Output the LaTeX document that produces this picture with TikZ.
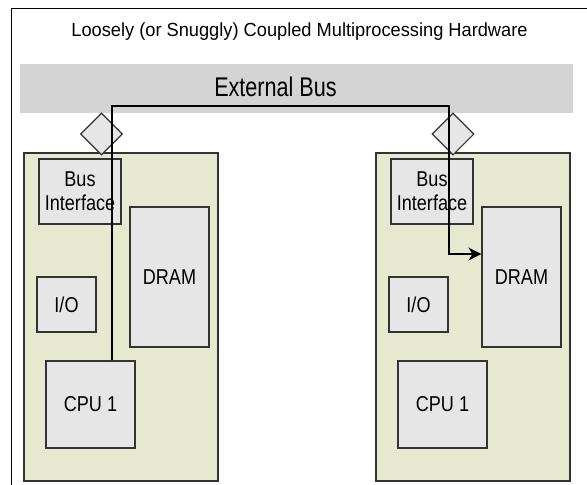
\documentclass[tikz,border=0pt]{standalone}
\usepackage{fontspec}
\setmainfont{Liberation Sans}
\newfontfamily\titlefont[FakeStretch=0.96]{Liberation Sans}
\newfontfamily\boxfont[FakeStretch=0.84]{Liberation Sans}
\newfontfamily\busfont[FakeStretch=0.8]{Liberation Sans}
\usetikzlibrary{shapes.geometric,arrows.meta}

\definecolor{boardfill}{HTML}{E6E9CF}
\definecolor{boxfill}{HTML}{E6E6E6}
\definecolor{barfill}{HTML}{D4D4D4}
\definecolor{edgegray}{HTML}{333333}

\tikzset{
	board/.style={rectangle,draw=edgegray,line width=1.5pt,fill=boardfill,inner sep=0},
	unit/.style={rectangle,draw=edgegray,line width=1.1pt,fill=boxfill,inner sep=0,align=center,
		font=\boxfont\fontsize{21.5}{24}\selectfont},
	port/.style={diamond,aspect=1,draw=edgegray,line width=1.1pt,fill=boxfill,inner sep=0,minimum size=42pt},
	wire/.style={draw=black,line width=1.2pt}
}

\begin{document}
\begin{tikzpicture}[x=1pt,y=-1pt]
		\useasboundingbox (0, 0) rectangle (587, 485);
		\draw[line width=1.6pt] (11.5, 490) -- (11.5, 8.5) -- (592, 8.5);

		\node[anchor=base,font=\titlefont\fontsize{19}{22}\selectfont] (title) at (299.5, 36.7) { Loosely (or Snuggly) Coupled Multiprocessing Hardware };
		\node[rectangle,fill=barfill,minimum width=553.5pt,minimum height=49pt,inner sep=0] (extbus) at (296.25, 88.5) {};
		\node[anchor=base,inner sep=0,font=\busfont\fontsize{27}{30}\selectfont] (buslabel) at (275.5, 96.7) {External Bus};

		% left processor
		\node[board,minimum width=194pt,minimum height=328pt] (boardA) at (121, 317) {};
		\node[unit,minimum width=82pt,minimum height=65pt] (bifA) at (80, 191.5) {Bus\\Interface};
		\node[unit,minimum width=79pt,minimum height=140pt] (dramA) at (169.5, 277) {DRAM};
		\node[unit,minimum width=59pt,minimum height=55pt] (ioA) at (66.5, 304.5) {I/O};
		\node[unit,minimum width=89pt,minimum height=87pt] (cpuA) at (90.5, 404.5) {CPU 1};
		\node[port] (portA) at (101.5, 134) {};

		% right processor
		\node[board,minimum width=194pt,minimum height=328pt] (boardB) at (473, 317) {};
		\node[unit,minimum width=82pt,minimum height=65pt] (bifB) at (432, 191.5) {Bus\\Interface};
		\node[unit,minimum width=79pt,minimum height=140pt] (dramB) at (521.5, 277) {DRAM};
		\node[unit,minimum width=59pt,minimum height=55pt] (ioB) at (418.5, 304.5) {I/O};
		\node[unit,minimum width=89pt,minimum height=87pt] (cpuB) at (442.5, 404.5) {CPU 1};
		\node[port] (portB) at (453, 134) {};

		\coordinate (busL) at (112, 106);
		\coordinate (busR) at (449, 106);
		\draw[wire,-{Stealth[length=13pt,width=13pt,inset=4pt]}] (busL |- cpuA.north) -- (busL) -- (busR) |- ([yshift=23pt]dramB.west);
	\end{tikzpicture}
\end{document}
